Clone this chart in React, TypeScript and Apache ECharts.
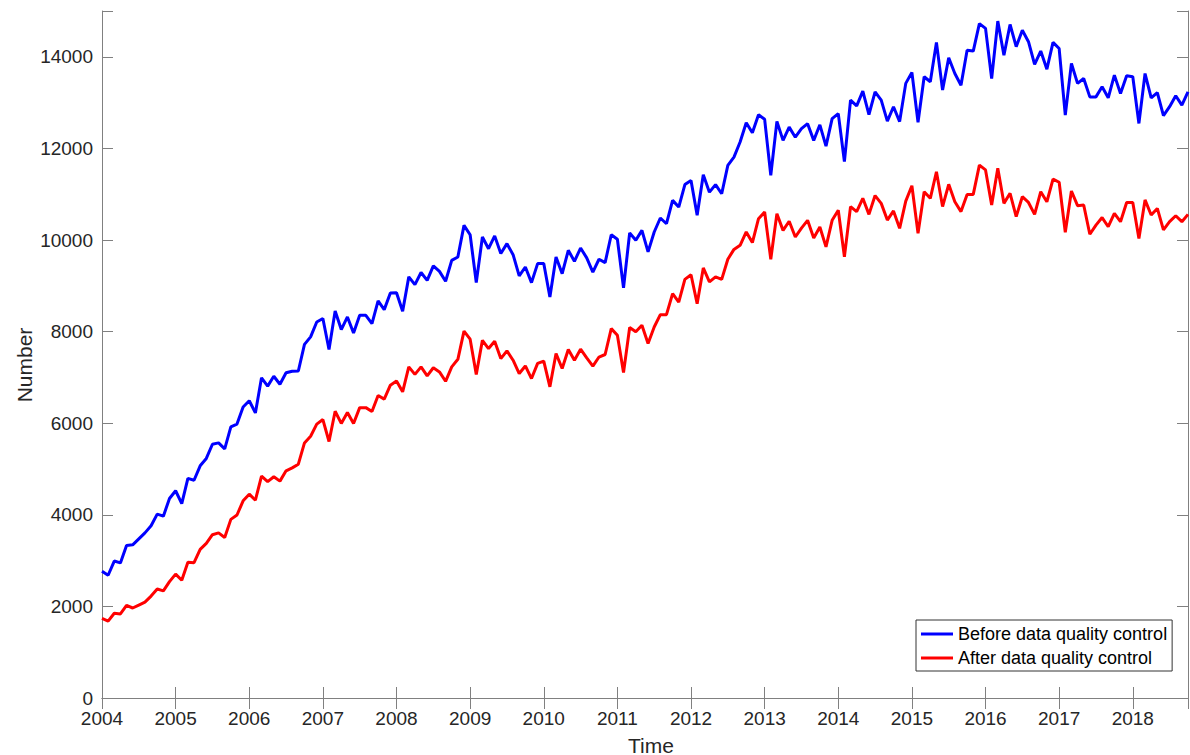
import React, { useEffect, useRef } from "react";
import * as echarts from "echarts";

const startYear = 2004;
const xTickLabels = [2004, 2005, 2006, 2007, 2008, 2009, 2010, 2011, 2012, 2013, 2014, 2015, 2016, 2017, 2018];
const yTickLabels = [0, 2000, 4000, 6000, 8000, 10000, 12000, 14000];
const seriesNames = ["Before data quality control", "After data quality control"];

const beforeQC = [
  2770, 2680, 2990, 2950, 3330, 3345, 3475, 3605, 3760, 4015, 3970, 4355,
  4525, 4245, 4795, 4755, 5070, 5230, 5540, 5570, 5440, 5920, 5980, 6355,
  6490, 6225, 6990, 6810, 7025, 6850, 7100, 7135, 7140, 7720, 7885, 8210,
  8285, 7610, 8450, 8045, 8320, 7970, 8355, 8355, 8175, 8670, 8480, 8845,
  8850, 8445, 9195, 9025, 9290, 9120, 9435, 9315, 9100, 9555, 9630, 10320,
  10115, 9070, 10065, 9810, 10090, 9705, 9920, 9680, 9215, 9410, 9070, 9485,
  9485, 8755, 9630, 9265, 9775, 9535, 9825, 9610, 9300, 9580, 9505, 10115,
  10015, 8955, 10155, 9995, 10210, 9740, 10175, 10480, 10355, 10865, 10720, 11210,
  11300, 10540, 11425, 11045, 11210, 11010, 11630, 11810, 12140, 12560, 12340, 12735,
  12635, 11410, 12590, 12175, 12465, 12245, 12430, 12540, 12175, 12515, 12050, 12650,
  12760, 11710, 13055, 12930, 13250, 12740, 13235, 13055, 12595, 12910, 12585, 13420,
  13660, 12570, 13565, 13455, 14315, 13275, 13980, 13635, 13380, 14145, 14125, 14725,
  14620, 13525, 14780, 14035, 14705, 14220, 14580, 14330, 13835, 14125, 13730, 14315,
  14180, 12725, 13855, 13420, 13525, 13125, 13125, 13345, 13105, 13600, 13200, 13585,
  13565, 12545, 13635, 13105, 13220, 12715, 12910, 13150, 12945, 13235,
];

const afterQC = [
  1740, 1680, 1850, 1835, 2020, 1965, 2030, 2095, 2225, 2380, 2340, 2540,
  2705, 2570, 2965, 2955, 3245, 3375, 3565, 3605, 3505, 3900, 3995, 4305,
  4450, 4320, 4845, 4725, 4830, 4735, 4960, 5025, 5105, 5570, 5715, 5980,
  6080, 5600, 6260, 5995, 6235, 5995, 6340, 6340, 6255, 6605, 6525, 6830,
  6920, 6685, 7230, 7065, 7230, 7035, 7210, 7120, 6915, 7230, 7395, 8010,
  7835, 7065, 7810, 7630, 7790, 7410, 7580, 7375, 7085, 7250, 6975, 7305,
  7355, 6795, 7520, 7195, 7610, 7375, 7615, 7425, 7245, 7445, 7500, 8065,
  7920, 7105, 8090, 7995, 8140, 7740, 8100, 8370, 8370, 8830, 8645, 9140,
  9240, 8610, 9390, 9085, 9195, 9140, 9580, 9795, 9885, 10175, 9945, 10465,
  10610, 9580, 10575, 10210, 10410, 10065, 10260, 10430, 10045, 10285, 9850, 10430,
  10650, 9635, 10730, 10620, 10910, 10560, 10970, 10800, 10435, 10635, 10255, 10850,
  11185, 10145, 11055, 10910, 11490, 10730, 11215, 10835, 10620, 10995, 10995, 11635,
  11530, 10765, 11565, 10800, 11020, 10510, 10945, 10820, 10560, 11055, 10835, 11330,
  11260, 10170, 11070, 10750, 10765, 10125, 10325, 10490, 10290, 10580, 10400, 10820,
  10820, 10035, 10875, 10545, 10690, 10220, 10400, 10530, 10400, 10560,
];

const FONT = '"Liberation Sans", Arial, Helvetica, sans-serif';
const AXIS_COLOR = "#808080";
const TEXT_COLOR = "#262626";

export default function App() {
  const ref = useRef<HTMLDivElement>(null);

  useEffect(() => {
    document.body.style.margin = "0";
    if (!ref.current) return;
    const chart = echarts.init(ref.current, undefined, { renderer: "svg" });

    const toPoints = (vals: number[]) => vals.map((v, i) => [startYear + i / 12, v]);
    const xMax = startYear + (beforeQC.length - 1) / 12;
    const yMax = 15000;

    const axisLine = { show: true, lineStyle: { color: AXIS_COLOR, width: 1 } };
    const axisTick = { show: true, inside: true, length: 11, lineStyle: { color: AXIS_COLOR, width: 1 } };

    const xLabelFmt = (v: number) => (xTickLabels.includes(Math.round(v * 1000) / 1000) ? String(v) : "");
    const yLabelFmt = (v: number) => (yTickLabels.includes(v) ? String(v) : "");

    chart.setOption({
      animation: false,
      backgroundColor: "#ffffff",
      grid: { left: 102, right: 2, top: 11, bottom: 57, containLabel: false },
      xAxis: [
        {
          type: "value",
          min: startYear,
          max: xMax,
          interval: 1,
          position: "bottom",
          axisLine,
          axisTick,
          splitLine: { show: false },
          axisLabel: {
            formatter: xLabelFmt,
            color: TEXT_COLOR,
            fontSize: 19,
            lineHeight: 15,
            fontFamily: FONT,
            margin: 13,
            showMaxLabel: false,
          },
        },
        {
          type: "value",
          min: startYear,
          max: xMax,
          interval: 1,
          position: "top",
          axisLine,
          axisTick,
          splitLine: { show: false },
          axisLabel: { show: false },
        },
      ],
      yAxis: [
        {
          type: "value",
          min: 0,
          max: yMax,
          interval: 2000,
          position: "left",
          axisLine,
          axisTick,
          splitLine: { show: false },
          axisLabel: {
            formatter: yLabelFmt,
            color: TEXT_COLOR,
            fontSize: 19,
            lineHeight: 15,
            fontFamily: FONT,
            margin: 9,
          },
        },
        {
          type: "value",
          min: 0,
          max: yMax,
          interval: 2000,
          position: "right",
          axisLine,
          axisTick,
          splitLine: { show: false },
          axisLabel: { show: false },
        },
      ],
      legend: {
        orient: "vertical",
        left: 916,
        top: 620,
        data: seriesNames,
        icon: "rect",
        itemWidth: 32,
        itemHeight: 3,
        itemGap: 4,
        itemTextGap: 4,
        padding: [4, 5, 3, 5],
        borderColor: "#333333",
        borderWidth: 1,
        backgroundColor: "#ffffff",
        textStyle: { fontSize: 18, fontFamily: FONT, color: "#000000", lineHeight: 20 },
      },
      graphic: [
        {
          type: "text",
          x: 24,
          y: 365,
          rotation: Math.PI / 2,
          style: {
            text: "Number",
            fontSize: 21,
            fontFamily: FONT,
            fill: TEXT_COLOR,
            align: "center",
            verticalAlign: "middle",
          },
        },
        {
          type: "text",
          x: 651,
          y: 745,
          style: {
            text: "Time",
            fontSize: 21,
            fontFamily: FONT,
            fill: TEXT_COLOR,
            align: "center",
            verticalAlign: "middle",
          },
        },
      ],
      series: [
        {
          name: seriesNames[0],
          type: "line",
          data: toPoints(beforeQC),
          showSymbol: false,
          symbol: "none",
          lineStyle: { color: "#0000ff", width: 3 },
          itemStyle: { color: "#0000ff" },
          xAxisIndex: 0,
          yAxisIndex: 0,
        },
        {
          name: seriesNames[1],
          type: "line",
          data: toPoints(afterQC),
          showSymbol: false,
          symbol: "none",
          lineStyle: { color: "#ff0000", width: 3 },
          itemStyle: { color: "#ff0000" },
          xAxisIndex: 0,
          yAxisIndex: 0,
        },
      ],
    });

    return () => {
      chart.dispose();
    };
  }, []);

  return (
    <div
      ref={ref}
      style={{ position: "absolute", left: 0, top: 0, width: 1190, height: 755 }}
    />
  );
}
